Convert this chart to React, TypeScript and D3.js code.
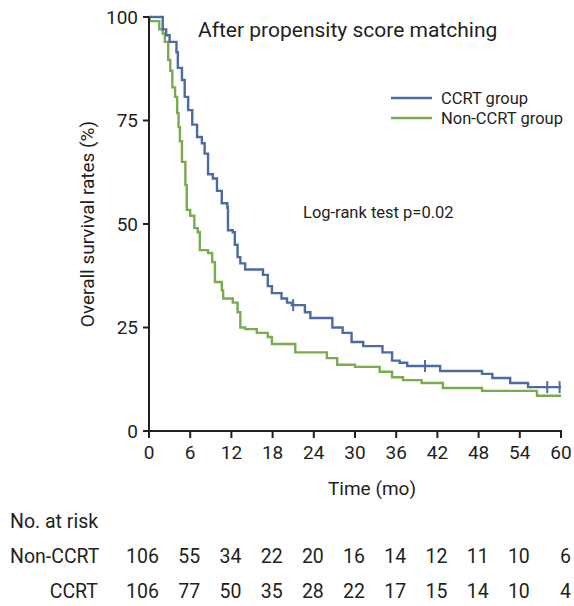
import * as d3 from 'd3';

const ccrtTimes = [0, 2.0, 2.5, 3.0, 4.0, 4.2, 4.8, 5.2, 5.7, 6.3, 7.0, 7.7, 8.1, 8.6, 9.3, 9.9, 10.6, 11.4, 11.5, 12.2, 12.5, 12.9, 13.3, 14.0, 16.6, 17.3, 17.9, 19.3, 20.1, 20.8, 22.7, 23.5, 26.7, 28.2, 29.5, 31.2, 34.0, 35.4, 36.5, 37.6, 42.4, 48.5, 50.0, 52.6, 55.2];
const ccrtSurvival = [100, 97, 95.6, 94, 91.5, 87.7, 84.8, 80.7, 77.5, 74, 71, 69.5, 67, 62, 61, 58, 55, 54, 48.5, 48, 45, 42, 40.5, 39, 37.7, 35, 33.3, 32, 31, 30.4, 28.7, 27.3, 25, 23.7, 21.5, 20.5, 19, 17, 16.5, 15.7, 14.5, 13.8, 12.8, 11.6, 10.6];
const ccrtCensored = [21.0, 40.2, 58.0, 59.8];

const nonCcrtTimes = [0, 0.1, 1.5, 2.0, 2.3, 2.8, 3.1, 3.4, 3.8, 4.1, 4.3, 4.5, 4.8, 5.3, 5.5, 6.0, 6.6, 7.1, 7.4, 8.6, 9.2, 9.6, 10.6, 10.8, 12.2, 12.9, 13.3, 14.0, 15.7, 17.3, 17.9, 21.3, 25.9, 27.4, 30.0, 33.6, 35.4, 37.0, 39.7, 42.8, 48.5, 56.5];
const nonCcrtSurvival = [100, 99, 97, 96, 94, 89.6, 87, 83, 80.7, 76.8, 73.4, 70, 65, 59.4, 53.4, 52, 49, 48, 43.7, 43, 40.8, 36, 34, 32, 31, 28.7, 25, 24.6, 23.7, 22.7, 21, 19, 17.6, 16, 15.5, 14.3, 13, 12.3, 11.6, 10.4, 9.7, 8.5];

const xTicks = [0, 6, 12, 18, 24, 30, 36, 42, 48, 54, 60];
const yTicks = [0, 25, 50, 75, 100];
const riskNonCcrt = [106, 55, 34, 22, 20, 16, 14, 12, 11, 10, 6];
const riskCcrt = [106, 77, 50, 35, 28, 22, 17, 15, 14, 10, 4];

const BLUE = '#4d6aa4';
const GREEN = '#7aab4e';
const INK = '#231f20';
const FONT = "Roboto, 'Noto Sans', sans-serif";

type Pt = { t: number; s: number };

function toPoints(times: number[], surv: number[]): Pt[] {
  const pts = times.map((t, i) => ({ t, s: surv[i] }));
  pts.push({ t: 60, s: surv[surv.length - 1] });
  return pts;
}

export default function App() {
  const x = d3.scaleLinear().domain([0, 60]).range([149, 561]);
  const y = d3.scaleLinear().domain([0, 100]).range([431, 17]);

  const line = d3
    .line<Pt>()
    .x(d => x(d.t))
    .y(d => y(d.s))
    .curve(d3.curveStepAfter);

  const ccrt = toPoints(ccrtTimes, ccrtSurvival);
  const nonCcrt = toPoints(nonCcrtTimes, nonCcrtSurvival);

  // survival value at a censor time
  const survAt = (pts: Pt[], t: number) => {
    let s = 100;
    pts.forEach(p => {
      if (p.t <= t) s = p.s;
    });
    return s;
  };

  return (
    <svg
      width={574}
      height={606}
      style={{ position: 'absolute', left: 0, top: 0, background: '#fff' }}
      fontFamily={FONT}
    >
      {/* curves */}
      <path d={line(nonCcrt) ?? ''} fill="none" stroke={GREEN} strokeWidth={2.4} />
      <path d={line(ccrt) ?? ''} fill="none" stroke={BLUE} strokeWidth={2.4} />
      {ccrtCensored.map(t => (
        <line
          key={t}
          x1={x(t)}
          x2={x(t)}
          y1={y(survAt(ccrt, t)) - 6}
          y2={y(survAt(ccrt, t)) + 6}
          stroke={BLUE}
          strokeWidth={2}
        />
      ))}

      {/* y axis */}
      <line x1={x(0)} x2={x(0)} y1={y(100)} y2={y(0)} stroke={INK} strokeWidth={2} />
      {yTicks.map(v => (
        <g key={v}>
          <line x1={x(0) - 6} x2={x(0)} y1={y(v)} y2={y(v)} stroke={INK} strokeWidth={2} />
          <text x={x(0) - 11} y={y(v)} dy="0.35em" textAnchor="end" fontSize={19} fill={INK}>
            {v}
          </text>
        </g>
      ))}
      <text
        transform={`translate(94,${y(50)}) rotate(-90)`}
        textAnchor="middle"
        fontSize={19}
        fill={INK}
      >
        Overall survival rates (%)
      </text>

      {/* x axis */}
      <line x1={x(0) - 1} x2={x(60) + 1} y1={y(0)} y2={y(0)} stroke={INK} strokeWidth={2} />
      {xTicks.map(v => (
        <g key={v}>
          <line x1={x(v)} x2={x(v)} y1={y(0)} y2={y(0) + 7} stroke={INK} strokeWidth={2} />
          <text x={x(v)} y={y(0) + 28} textAnchor="middle" fontSize={19} fill={INK}>
            {v}
          </text>
        </g>
      ))}
      <text x={372} y={495} textAnchor="middle" fontSize={19} fill={INK}>
        Time (mo)
      </text>

      {/* title and annotations */}
      <text x={198} y={37} fontSize={21} fill={INK}>
        After propensity score matching
      </text>
      <text x={303} y={218} fontSize={16.5} fill={INK}>
        Log-rank test p=0.02
      </text>

      {/* legend */}
      <line x1={391} x2={432} y1={98} y2={98} stroke={BLUE} strokeWidth={2.4} />
      <text x={441} y={98} dy="0.35em" fontSize={16.5} fill={INK}>
        CCRT group
      </text>
      <line x1={391} x2={432} y1={118} y2={118} stroke={GREEN} strokeWidth={2.4} />
      <text x={441} y={118} dy="0.35em" fontSize={16.5} fill={INK}>
        Non-CCRT group
      </text>

      {/* number at risk */}
      <text x={10} y={528} fontSize={19.5} fill={INK}>
        No. at risk
      </text>
      <text x={10} y={563} fontSize={19.5} fill={INK}>
        Non-CCRT
      </text>
      <text x={98} y={598} textAnchor="end" fontSize={19.5} fill={INK}>
        CCRT
      </text>
      {xTicks.map((v, i) => (
        <g key={v}>
          <text x={x(v) + 10} y={563} textAnchor="end" fontSize={19.5} fill={INK}>
            {riskNonCcrt[i]}
          </text>
          <text x={x(v) + 10} y={598} textAnchor="end" fontSize={19.5} fill={INK}>
            {riskCcrt[i]}
          </text>
        </g>
      ))}
    </svg>
  );
}
